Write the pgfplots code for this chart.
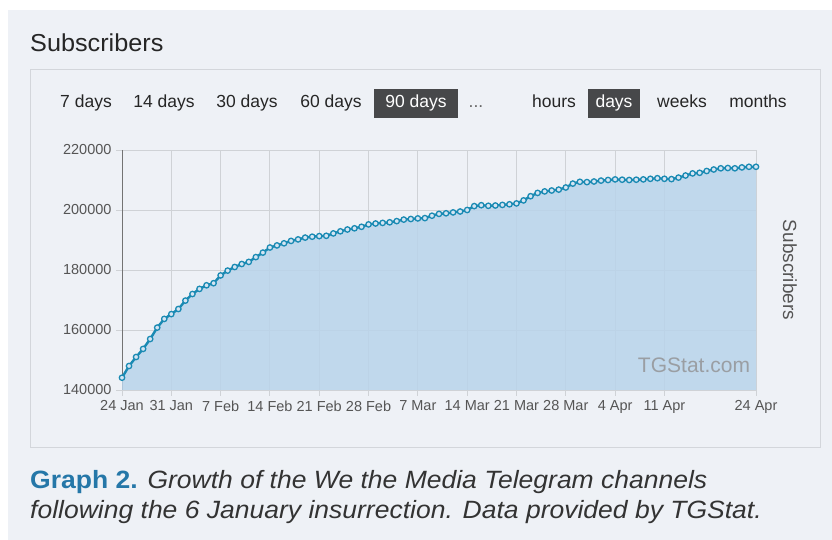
\documentclass[border=0pt]{standalone}
\usepackage{pgfplots}
\usepackage{pgfplotstable}
\pgfplotsset{compat=1.18}
\usepackage{fontspec}
\setmainfont{Liberation Sans}
\definecolor{bg}{HTML}{EEF1F6}
\definecolor{panelborder}{HTML}{D3D6DB}
\definecolor{linec}{HTML}{1A8AB3}
\definecolor{areac}{HTML}{B9D4EB}
\definecolor{gridc}{HTML}{CFD2D6}
\definecolor{tickc}{HTML}{555555}
\definecolor{btn}{HTML}{47484A}
\definecolor{capblue}{HTML}{2577A8}
\definecolor{captext}{HTML}{333333}
\definecolor{wm}{HTML}{9A9EA3}

\pgfplotstableread{
day subs
0 144100
1 148000
2 151000
3 153700
4 157000
5 160800
6 163700
7 165300
8 167000
9 169800
10 172000
11 173700
12 174900
13 175600
14 178200
15 179800
16 181000
17 182000
18 182700
19 184300
20 185800
21 187500
22 188200
23 188900
24 189700
25 190200
26 190800
27 191100
28 191300
29 191400
30 192200
31 192900
32 193500
33 193900
34 194400
35 195200
36 195500
37 195700
38 195900
39 196300
40 196800
41 197000
42 197200
43 197300
44 198100
45 198700
46 198900
47 199200
48 199500
49 200000
50 201300
51 201600
52 201400
53 201500
54 201700
55 201900
56 202200
57 203200
58 204600
59 205700
60 206200
61 206500
62 206800
63 207500
64 208800
65 209400
66 209300
67 209500
68 209800
69 210000
70 210200
71 210100
72 210000
73 210100
74 210200
75 210400
76 210600
77 210400
78 210300
79 210800
80 211500
81 212200
82 212400
83 213000
84 213500
85 213900
86 214000
87 213900
88 214200
89 214400
90 214400
}\subsdata

\begin{document}
\begin{tikzpicture}[x=1pt,y=1pt]
\fill[white] (0,0) rectangle (832,540);
\fill[bg] (8,0) rectangle (832,530);
\draw[panelborder, line width=1pt] (30,92) rectangle (820,470);
\node[anchor=base west, inner sep=0pt, xscale=1.03, font=\fontsize{24.5}{28}\selectfont, text=black!85] at (30,488) {Subscribers};
% buttons
\fill[btn] (374,422) rectangle (458,451);
\fill[btn] (588,422) rectangle (640,451);
\begin{scope}[every node/.style={anchor=base, inner sep=0pt, font=\fontsize{17.5}{20}\selectfont, text=black!85}]
\node at (86,432) {7 days};
\node at (164,432) {14 days};
\node at (247,432) {30 days};
\node at (331,432) {60 days};
\node[text=white] at (416,432) {90 days};
\node[text=black!60] at (476,432) {...};
\node at (554,432) {hours};
\node[text=white] at (614,432) {days};
\node at (682,432) {weeks};
\node at (758,432) {months};
\end{scope}
\node[rotate=-90, font=\fontsize{19}{22}\selectfont, text=tickc] at (790,270) {Subscribers};
% caption
\node[anchor=base west, inner sep=0pt, xscale=1.06, font=\fontsize{25}{29}\selectfont] at (30,51) {\textcolor{capblue}{\bfseries Graph 2.} \textcolor{captext}{\itshape Growth of the We the Media Telegram channels}};
\node[anchor=base west, inner sep=0pt, xscale=1.06, font=\fontsize{25}{29}\selectfont, text=captext] at (30,21) {\itshape following the 6 January insurrection. Data provided by TGStat.};
\begin{axis}[
  at={(122pt,150pt)}, anchor=south west,
  scale only axis, width=634pt, height=240pt,
  xmin=0, xmax=90, ymin=140000, ymax=220000,
  xtick={0,7,14,21,28,35,42,49,56,63,70,77,90},
  xticklabels={24 Jan,31 Jan,7 Feb,14 Feb,21 Feb,28 Feb,7 Mar,14 Mar,21 Mar,28 Mar,4 Apr,11 Apr,24 Apr},
  ytick={140000,160000,180000,200000,220000},
  yticklabels={140000,160000,180000,200000,220000},
  scaled y ticks=false,
  ticklabel style={font=\fontsize{14.5}{17}\selectfont, text=tickc},
  xticklabel style={yshift=-1pt},
  yticklabel style={xshift=-1pt},
  grid=major,
  major grid style={gridc, line width=0.9pt},
  axis x line*=bottom, axis y line*=left,
  x axis line style={-, gridc, line width=0.9pt},
  y axis line style={-, black!55, line width=1pt},
  tick align=outside, major tick length=6pt,
  tick style={gridc, line width=0.9pt},
  clip=false,
]
\addplot[draw=none, fill=areac, fill opacity=0.85] table[x=day, y=subs] {\subsdata} \closedcycle;
\addplot[linec, line width=2.4pt, mark=*, mark size=2.7pt, mark options={fill=areac!60!white, draw=linec, line width=1.3pt}] table[x=day, y=subs] {\subsdata};
\end{axis}
\node[font=\fontsize{21}{24}\selectfont, text=wm] at (694,175) {TGStat.com};
\end{tikzpicture}
\end{document}
